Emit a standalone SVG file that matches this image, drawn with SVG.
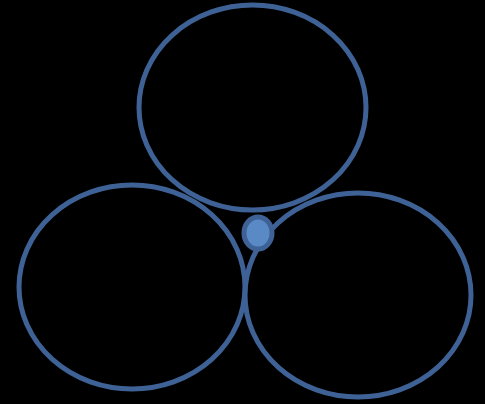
<svg xmlns="http://www.w3.org/2000/svg" width="485" height="404" viewBox="0 0 485 404">
<style>
.ring{fill:none;stroke:#3F6296;stroke-width:5}
.dot{fill:#5A8AC6;stroke:#3F6296;stroke-width:5}
</style>
<rect width="485" height="404" fill="#000"/>
<g id="top"><ellipse class="ring" cx="252.5" cy="107.5" rx="113.5" ry="102.5"/></g>
<g id="left"><ellipse class="ring" cx="132" cy="287" rx="113" ry="102"/></g>
<g id="right"><ellipse class="ring" cx="358" cy="295" rx="113" ry="102"/></g>
<g id="center"><ellipse class="dot" cx="258" cy="233" rx="14" ry="16"/></g>
</svg>
